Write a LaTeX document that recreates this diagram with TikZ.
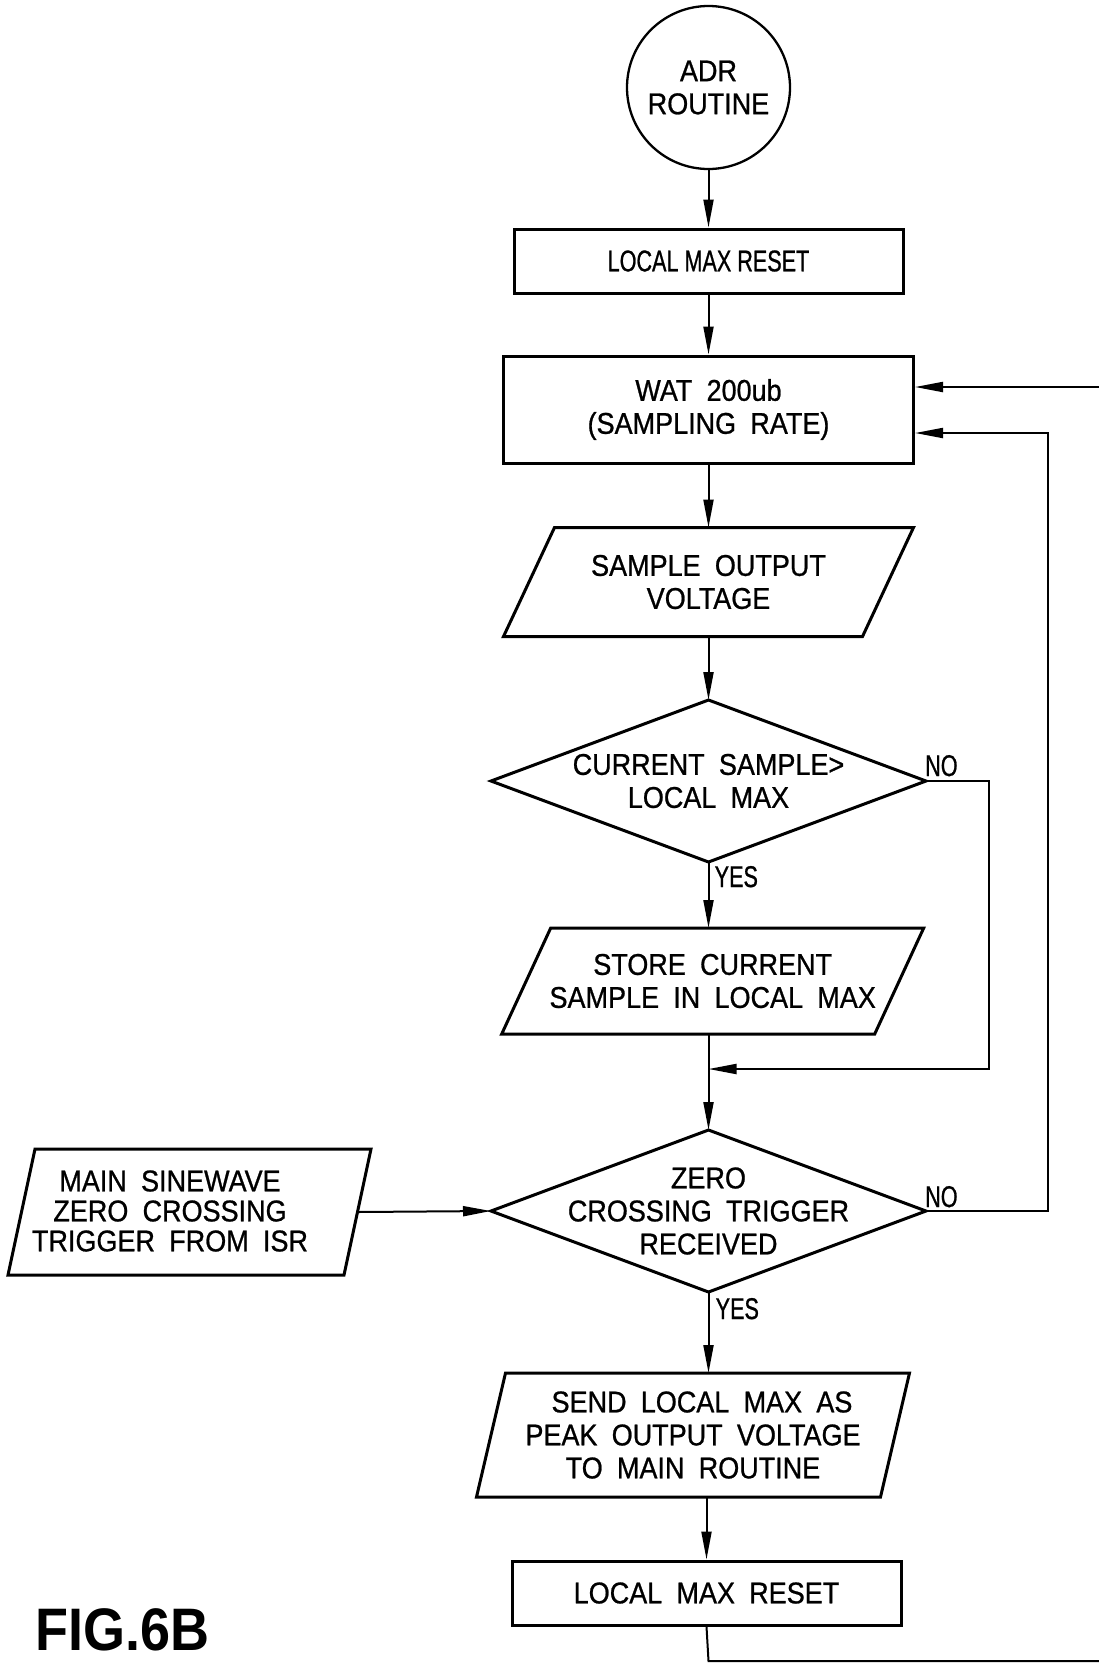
\documentclass[tikz,border=0pt]{standalone}
\usepackage{fontspec}
\usepackage{graphicx}
\setmainfont{Liberation Sans}[FakeStretch=0.9,WordSpace=1.9,FakeBold=0.8]
\newfontfamily\condfont{Liberation Sans}[FakeStretch=0.72,FakeBold=0.8]
\newfontfamily\figfont{Liberation Sans}[FakeStretch=0.9]
\usetikzlibrary{arrows.meta,calc}
\newcommand\mypara[2]{\draw[shapeline] ([xshift=#2pt]#1.north west) -- (#1.north east) -- ([xshift=-#2pt]#1.south east) -- (#1.south west) -- cycle;}
\newcommand\mydiam[1]{\draw[shapeline] (#1.north) -- (#1.east) -- (#1.south) -- (#1.west) -- cycle;}
\begin{document}
\begin{tikzpicture}[x=1pt,y=-1pt,
  txt/.style={inner sep=0pt, align=center, font=\fontsize{30}{33}\selectfont},
  shapeline/.style={line width=3pt, line join=miter},
  procbox/.style={txt, rectangle, draw, shapeline},
  frame/.style={txt, rectangle, outer sep=0pt},
  conn/.style={line width=2pt},
  arr/.style={conn, -{Triangle[length=28pt,width=10pt]}},
  lbl/.style={inner sep=0pt, font=\fontsize{30}{30}\selectfont\condfont}]
\useasboundingbox (0,0) rectangle (1099,1663);
\fill[white] (0,0) rectangle (1099,1663);

% nodes
\node[txt, circle, draw, line width=2.3pt, minimum size=163pt] (start) at (708.5,87.5) {ADR\\ROUTINE};
\node[procbox, minimum width=389pt, minimum height=64pt] (b1) at (708.5,261) {\condfont LOCAL MAX RESET};
\node[procbox, minimum width=410pt, minimum height=107pt] (b2) at (708.5,409.5) {WAT 200ub\\(SAMPLING RATE)};
\node[frame, minimum width=410pt, minimum height=109pt] (p1) at (708.5,582) {SAMPLE OUTPUT\\VOLTAGE};
\mypara{p1}{51}
\node[frame, minimum width=435pt, minimum height=162pt] (d1) at (708.5,781) {CURRENT SAMPLE>\\LOCAL MAX};
\mydiam{d1}
\node[frame, minimum width=422pt, minimum height=106pt] (p2) at (712.7,981) {STORE CURRENT\\SAMPLE IN LOCAL MAX};
\mypara{p2}{49}
\node[frame, minimum width=435pt, minimum height=162pt] (d2) at (708.5,1211) {ZERO\\CROSSING TRIGGER\\RECEIVED};
\mydiam{d2}
\node[frame, minimum width=363pt, minimum height=126pt] (lp) at (189.5,1212) {};
\node[txt, font=\fontsize{30}{30}\selectfont] (lpt) at (170,1211) {MAIN SINEWAVE\\ZERO CROSSING\\TRIGGER FROM ISR};
\mypara{lp}{27}
\node[frame, minimum width=433pt, minimum height=124pt] (p3) at (693,1435) {\hspace*{18pt}SEND LOCAL MAX AS\\PEAK OUTPUT VOLTAGE\\TO MAIN ROUTINE};
\mypara{p3}{29}
\node[procbox, minimum width=389pt, minimum height=64pt] (b3) at (706.5,1593) {LOCAL MAX RESET};

% labels
\node[lbl, anchor=base west] (no1) at ([xshift=-1pt,yshift=5pt]d1.east) {NO};
\node[lbl, anchor=base west] (yes1) at ([xshift=6pt,yshift=-25pt]d1.south) {YES};
\node[lbl, anchor=base west] (no2) at ([xshift=-1pt,yshift=4pt]d2.east) {NO};
\node[lbl, anchor=base west] (yes2) at ([xshift=7pt,yshift=-27pt]d2.south) {YES};
\node[anchor=base west, inner sep=0pt, font=\fontsize{60}{60}\selectfont\figfont\bfseries] (fig) at (35,1650) {FIG.6B};

% connectors
\draw[arr] (start.south) -- (b1.north);
\draw[arr] (b1.south) -- (b2.north);
\draw[arr] (b2.south) -- (p1.north);
\draw[arr] (p1.south) -- (d1.north);
\draw[arr] (d1.south) -- (d1.south |- p2.north);
\coordinate (j1) at (708.5,1069);
\coordinate (k1) at (989,781);
\coordinate (k2) at (989,1069);
\draw[arr] (d1.east) -- (k1) -- (k2) -- (j1);
\draw[arr] (d2.north |- p2.south) -- (d2.north);
\draw[arr] ([xshift=-13pt]lp.east) -- (d2.west);
\coordinate (k3) at (1048,1211);
\coordinate (k4) at (1048,433);
\draw[arr] (d2.east) -- (k3) -- (k4) -- (k4 -| b2.east);
\draw[arr] (d2.south) -- (d2.south |- p3.north);
\draw[arr] (b3.north |- p3.south) -- (b3.north);
\coordinate (k5) at (708.5,1661);
\coordinate (k6) at (1099,1661);
\draw[conn] (b3.south) -- (k5) -- (k6);
\coordinate (k7) at (1099,387);
\draw[arr] (k7) -- (k7 -| b2.east);
\end{tikzpicture}
\end{document}
